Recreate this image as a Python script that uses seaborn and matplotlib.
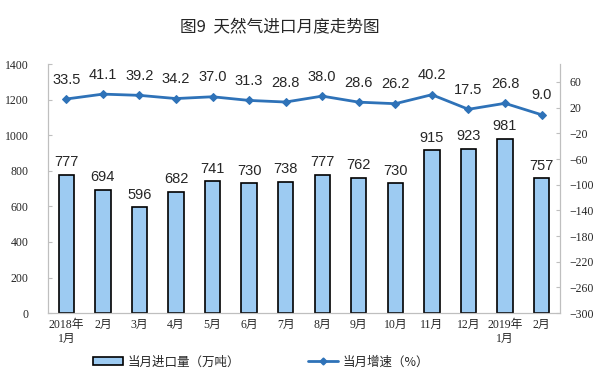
import numpy as np
import pandas as pd
import matplotlib
matplotlib.use("Agg")
import matplotlib.pyplot as plt
import seaborn as sns
from matplotlib.patches import Patch
from matplotlib.lines import Line2D

# data
months = ["2018年\n1月", "2月", "3月", "4月", "5月", "6月", "7月", "8月",
          "9月", "10月", "11月", "12月", "2019年\n1月", "2月"]
imports = [777, 694, 596, 682, 741, 730, 738, 777, 762, 730, 915, 923, 981, 757]
growth = [33.5, 41.1, 39.2, 34.2, 37.0, 31.3, 28.8, 38.0, 28.6, 26.2, 40.2, 17.5, 26.8, 9.0]

sns.set_style("white")
plt.rcParams['font.family'] = ['Liberation Serif', 'Noto Sans CJK SC', 'DejaVu Sans']

xs = np.arange(len(months))
df = pd.DataFrame({"pos": xs, "imports": imports, "growth": growth})

fig = plt.figure(figsize=(6, 3.81), dpi=100)
ax = fig.add_axes([0.08, 0.178, 0.853, 0.654])

bar_color = "#9DCBF2"
line_color = "#2E72B8"

sns.barplot(data=df, x="pos", y="imports", color=bar_color, width=0.42,
            edgecolor="black", linewidth=1.2, saturation=1, ax=ax)
ax.set_ylim(0, 1400)
ax.set_yticks(range(0, 1401, 200))
ax.set_xlim(-0.5, len(months) - 0.5)
ax.set_xlabel("")
ax.set_ylabel("")

for i, v in enumerate(imports):
    ax.annotate(str(v), (i, v), xytext=(0, 4), textcoords="offset points",
                ha="center", va="bottom", fontsize=10.5, family="Liberation Sans")

ax2 = ax.twinx()
sns.lineplot(data=df, x="pos", y="growth", color=line_color, linewidth=2, marker="D",
             markersize=4.5, markeredgecolor=line_color, ax=ax2)
ax2.set_ylim(-300, 88)
ax2.set_yticks(range(-300, 61, 40))
ax2.set_xlim(-0.5, len(months) - 0.5)
ax2.set_ylabel("")

for i, v in enumerate(growth):
    ax2.annotate(f"{v:.1f}", (i, v), xytext=(0, 9), textcoords="offset points",
                 ha="center", va="bottom", fontsize=10.5, family="Liberation Sans")

for a in (ax, ax2):
    for s in a.spines.values():
        s.set_color("#BFBFBF")
    a.spines["top"].set_visible(False)
    a.tick_params(axis="y", length=3, color="#BFBFBF", labelsize=8.5)
ax.set_xticks(xs, months)
ax.set_xticks(np.arange(-0.5, len(months), 1), minor=True)
ax.tick_params(axis="x", which="major", length=0, labelsize=8.5, pad=4)
ax.tick_params(axis="x", which="minor", length=3, color="#BFBFBF", direction="in")
ax.tick_params(axis="y", direction="in", pad=14)
ax2.tick_params(axis="y", direction="in", pad=7)

fig.text(0.467, 0.928, "图9  天然气进口月度走势图", ha="center", va="center",
         fontsize=12, family=["Noto Sans CJK SC"], fontweight="medium")

handles = [Patch(facecolor=bar_color, edgecolor="black", linewidth=1.2),
           Line2D([0], [0], color=line_color, linewidth=2, marker="D", markersize=3.5)]
fig.legend(handles, ["当月进口量（万吨）", "当月增速（%）"], loc="center",
           bbox_to_anchor=(0.435, 0.05), ncol=2, frameon=False, columnspacing=5.5,
           handlelength=2.4, handletextpad=0.3,
           prop={"family": ["Noto Sans CJK SC"], "size": 9})

plt.savefig("out.png", dpi=100)
